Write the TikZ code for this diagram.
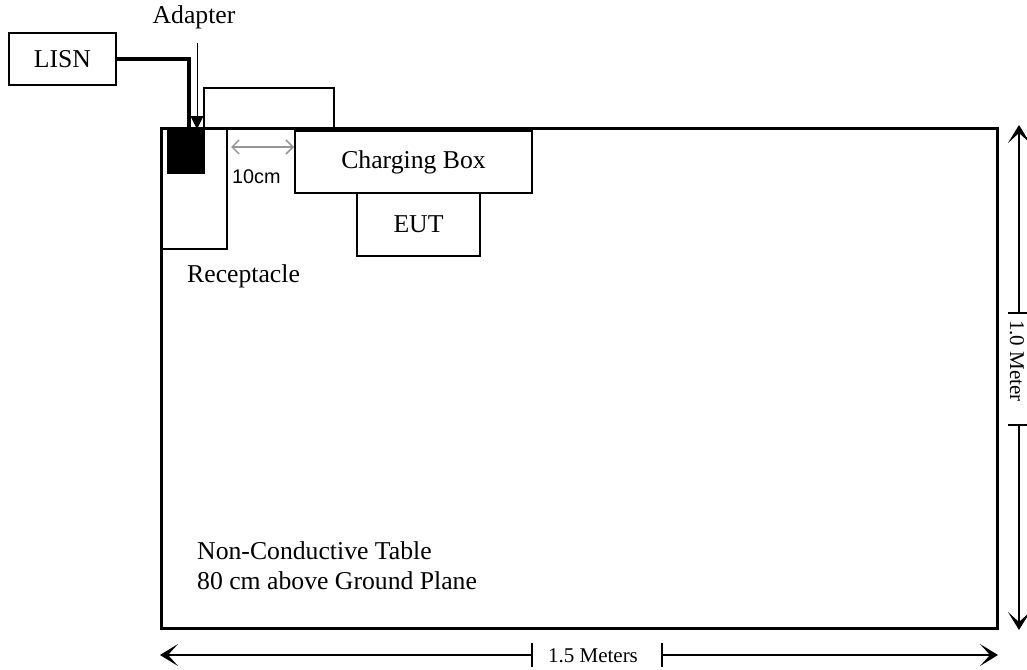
\documentclass[tikz,border=0pt]{standalone}
\usepackage{fontspec}
\setmainfont{Liberation Serif}
\newfontfamily\arialf{Liberation Sans}
\usetikzlibrary{arrows.meta}
\tikzset{
  box/.style={draw, line width=1.5pt, inner sep=0pt},
  big/.style={font=\fontsize{25.7}{30}\selectfont},
  dimtxt/.style={font=\fontsize{21}{24}\selectfont, inner sep=0pt},
  dimline/.style={line width=1.4pt},
  dimtip/.style={-{Stealth[length=18pt,width=22pt,inset=10pt]}},
}
\begin{document}
\begin{tikzpicture}[x=1pt,y=-1pt]
\useasboundingbox (0,0) rectangle (1027,669);
% table
\node[draw, line width=3pt, minimum width=836pt, minimum height=500pt, inner sep=0pt] (table) at (579,378) {};
% receptacle
\node[box, minimum width=66pt, minimum height=121pt] (recept) at (194,188.5) {};
\node[fill=black, minimum width=38pt, minimum height=44pt, inner sep=0pt] (adapter) at (186,152) {};
% cable box above table
\coordinate (cb1) at (204,127);
\coordinate (cb2) at (334,127);
\draw[line width=1.5pt] (cb1) -- (204,88) -- (334,88) -- (cb2);
% charging box and EUT
\node[box, big, minimum width=237pt, minimum height=62pt] (charging) at (413.5,162) {Charging Box};
\node[box, big, minimum width=123pt, minimum height=63pt] (eut) at (418.5,224.5) {EUT};
% LISN
\node[box, big, minimum width=107pt, minimum height=52pt] (lisn) at (62.5,59) {LISN};
\coordinate (cableend) at (189,128);
\draw[line width=4pt] (lisn.east) -| (cableend);
% adapter label and arrow
\node[big, anchor=base, inner sep=0pt] (adlabel) at (194,24) {Adapter};
\coordinate (adtop) at (197,43);
\coordinate (adtip) at (197,129);
\draw[line width=1pt, -{Triangle[length=13pt,width=13pt]}] (adtop) -- (adtip);
% receptacle label
\node[big, anchor=base west, inner sep=0pt] (reclabel) at (187,282) {Receptacle};
% 10cm arrow
\coordinate (ga) at (231,147);
\coordinate (gb) at (294,147);
\draw[draw={rgb,255:red,150;green,150;blue,150}, line width=1.5pt, {Straight Barb[length=7pt,width=14pt]}-{Straight Barb[length=7pt,width=14pt]}] (ga) -- (gb);
\node[font=\arialf\fontsize{19.8}{22}\selectfont, anchor=base west, inner sep=0pt] (tencm) at (232,183) {10cm};
% table label
\node[big, anchor=base west, align=left, inner sep=0pt] (tlabel) at (197,589) {Non-Conductive Table\\80 cm above Ground Plane};
% horizontal dimension
\node[dimtxt] (hlab) at (593,656) {1.5 Meters};
\coordinate (hl) at (160,655);
\coordinate (hr) at (998,655);
\coordinate (ht1) at (532,655);
\coordinate (ht2) at (662,655);
\draw[dimline, dimtip] (ht1) -- (hl);
\draw[dimline, dimtip] (ht2) -- (hr);
\draw[dimline] (532,643) -- (532,667);
\draw[dimline] (662,643) -- (662,667);
% vertical dimension
\node[dimtxt, rotate=-90] (vlab) at (1017,361) {1.0 Meter};
\coordinate (vt) at (1019,125);
\coordinate (vb) at (1019,630);
\coordinate (vt1) at (1019,313);
\coordinate (vt2) at (1019,425);
\draw[dimline, dimtip] (vt1) -- (vt);
\draw[dimline, dimtip] (vt2) -- (vb);
\draw[dimline] (1008,313) -- (1030,313);
\draw[dimline] (1008,425) -- (1030,425);
\end{tikzpicture}
\end{document}
